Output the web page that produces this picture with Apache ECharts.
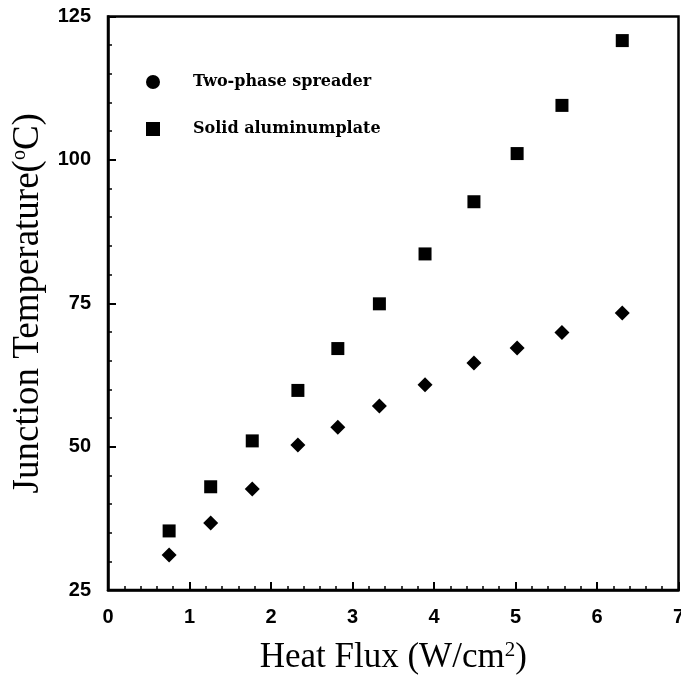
<!DOCTYPE html>
<html>
<head>
<meta charset="utf-8">
<script src="https://cdn.jsdelivr.net/npm/echarts@6/dist/echarts.min.js"></script>
<style>
  html, body { margin: 0; padding: 0; background: #fff; }
  #chart { width: 681px; height: 677px; }
</style>
</head>
<body>
<div id="chart"></div>
<script>
// Heat flux (W/cm²) at each measurement
const heatFlux = [0.75, 1.26, 1.77, 2.33, 2.82, 3.33, 3.89, 4.49, 5.02, 5.57, 6.31];
// Junction temperature (°C) for each cooling method
const twoPhase = [31.1, 36.7, 42.6, 50.3, 53.4, 57.1, 60.8, 64.6, 67.2, 69.9, 73.3];
const solidAl  = [35.3, 43.0, 51.0, 59.8, 67.1, 74.9, 83.6, 92.7, 101.1, 109.5, 120.8];
const seriesNames = ['Two-phase spreader', 'Solid aluminumplate'];
const xTicks = [0, 1, 2, 3, 4, 5, 6, 7];
const yTicks = [25, 50, 75, 100, 125];

const pair = (xs, ys) => xs.map((x, i) => [x, ys[i]]);

const tickFont = { fontFamily: 'Liberation Sans, Arial, sans-serif', fontWeight: 'bold', fontSize: 20, color: '#000' };
const serif = 'Liberation Serif, Times New Roman, serif';

const chart = echarts.init(document.getElementById('chart'), null, { renderer: 'canvas' });
chart.setOption({
  backgroundColor: '#fff',
  animation: false,
  grid: {
    left: 108, right: 2.5, top: 16.5, bottom: 87,
    outerBoundsMode: 'none',
    show: true, borderColor: '#000', borderWidth: 2.5, backgroundColor: 'transparent'
  },
  legend: {
    orient: 'vertical',
    left: 141, top: 69,
    itemWidth: 14, itemHeight: 14, itemGap: 31,
    data: [
      { name: seriesNames[0], icon: 'circle' },
      { name: seriesNames[1], icon: 'rect' }
    ],
    itemStyle: { color: '#000', opacity: 1 },
    textStyle: {
      fontFamily: 'DejaVu Serif, serif',
      fontWeight: 'bold', fontSize: 16, color: '#000',
      padding: [0, 0, 0, 28]
    }
  },
  xAxis: {
    type: 'value',
    min: xTicks[0], max: xTicks[xTicks.length - 1], interval: 1,
    name: 'Heat Flux (W/cm{sup|2})',
    nameLocation: 'middle', nameGap: 50,
    nameTextStyle: {
      fontFamily: serif, fontSize: 35, color: '#000',
      rich: { sup: { fontFamily: serif, fontSize: 21, padding: [0, 0, 14, 0], color: '#000' } }
    },
    axisLine: { show: true, onZero: false, lineStyle: { color: '#000', width: 2.5 } },
    axisTick: { show: true, inside: true, length: 8, lineStyle: { color: '#000', width: 2 } },
    minorTick: { show: true, splitNumber: 5, length: 4, lineStyle: { color: '#000', width: 1.5 } },
    axisLabel: Object.assign({ margin: 17 }, tickFont),
    splitLine: { show: false }
  },
  yAxis: {
    type: 'value',
    min: yTicks[0], max: yTicks[yTicks.length - 1], interval: 25,
    name: 'Junction Temperature({sup|o}C)',
    nameLocation: 'middle', nameGap: 61,
    nameTextStyle: {
      fontFamily: serif, fontSize: 37, color: '#000',
      rich: { sup: { fontFamily: serif, fontSize: 20, padding: [0, 0, 16, 0], color: '#000' } }
    },
    axisLine: { show: true, onZero: false, lineStyle: { color: '#000', width: 2.5 } },
    axisTick: { show: true, inside: true, length: 8, lineStyle: { color: '#000', width: 2 } },
    minorTick: { show: true, splitNumber: 5, length: 4, lineStyle: { color: '#000', width: 1.5 } },
    axisLabel: Object.assign({ margin: 17 }, tickFont),
    splitLine: { show: false }
  },
  series: [
    {
      name: seriesNames[0], type: 'scatter',
      symbol: 'diamond', symbolSize: 15,
      itemStyle: { color: '#000', opacity: 1 },
      data: pair(heatFlux, twoPhase)
    },
    {
      name: seriesNames[1], type: 'scatter',
      symbol: 'rect', symbolSize: 13,
      itemStyle: { color: '#000', opacity: 1 },
      data: pair(heatFlux, solidAl)
    }
  ]
});
</script>
</body>
</html>
